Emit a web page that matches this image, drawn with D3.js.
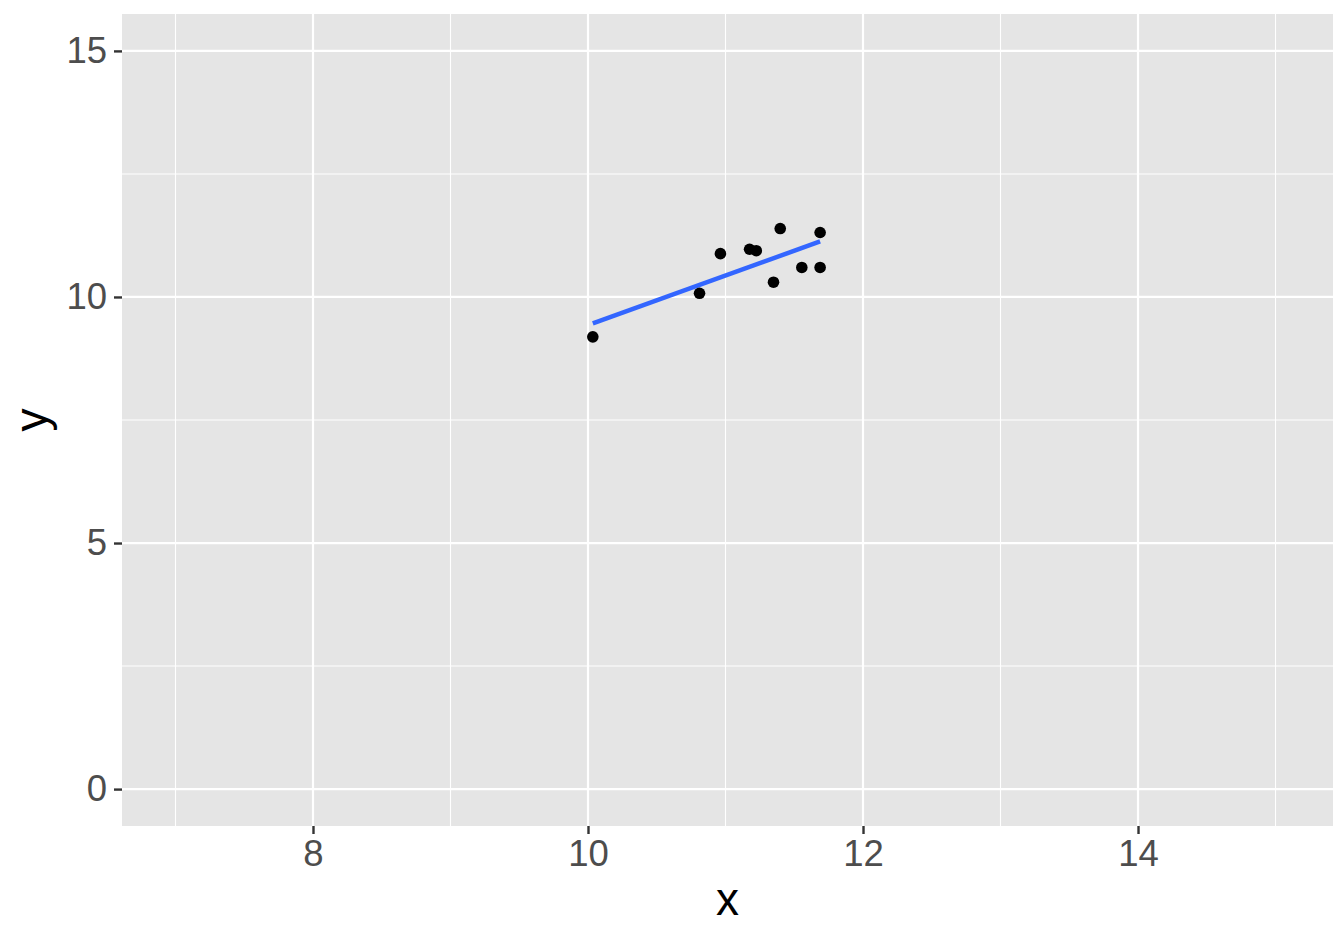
<!DOCTYPE html>
<html><head><meta charset="utf-8">
<script src="https://cdn.jsdelivr.net/npm/d3@7"></script>
<style>body{margin:0;background:#fff}svg{display:block}text{font-family:"Liberation Sans",Arial,Helvetica,sans-serif}</style>
</head><body>
<svg id="c" width="1344" height="940"></svg>
<script>
const xValues = [10.035, 10.811, 10.963, 11.175, 11.224, 11.349, 11.398, 11.555, 11.688, 11.688];
const yValues = [9.19, 10.075, 10.88, 10.97, 10.94, 10.30, 11.39, 10.60, 11.31, 10.60];
const xTicks = [8, 10, 12, 14];
const xMinor = [7, 9, 11, 13, 15];
const yTicks = [0, 5, 10, 15];
const yMinor = [2.5, 7.5, 12.5];

const svg = d3.select("#c");
const L = 122, R = 1333, T = 14, B = 826;
const x = d3.scaleLinear().domain([6.611, 15.418]).range([L, R]);
const y = d3.scaleLinear().domain([-0.75, 15.75]).range([B, T]);

svg.append("rect").attr("x", L).attr("y", T).attr("width", R - L).attr("height", B - T).attr("fill", "#E5E5E5");
const g = svg.append("g");
g.selectAll(".xm").data(xMinor).join("line").attr("x1", d => x(d)).attr("x2", d => x(d)).attr("y1", T).attr("y2", B).attr("stroke", "#fff").attr("stroke-width", 1.1);
g.selectAll(".ym").data(yMinor).join("line").attr("y1", d => y(d)).attr("y2", d => y(d)).attr("x1", L).attr("x2", R).attr("stroke", "#fff").attr("stroke-width", 1.1);
g.selectAll(".xM").data(xTicks).join("line").attr("x1", d => x(d)).attr("x2", d => x(d)).attr("y1", T).attr("y2", B).attr("stroke", "#fff").attr("stroke-width", 2.2);
g.selectAll(".yM").data(yTicks).join("line").attr("y1", d => y(d)).attr("y2", d => y(d)).attr("x1", L).attr("x2", R).attr("stroke", "#fff").attr("stroke-width", 2.2);

// axes
const xAxis = d3.axisBottom(x).tickValues(xTicks).tickSize(8).tickPadding(6).tickFormat(d3.format("d"));
const ax = svg.append("g").attr("transform", `translate(0,${B})`).call(xAxis);
const yAxis = d3.axisLeft(y).tickValues(yTicks).tickSize(8).tickPadding(7).tickFormat(d3.format("d"));
const ay = svg.append("g").attr("transform", `translate(${L},0)`).call(yAxis);
[ax, ay].forEach(a => {
  a.select(".domain").remove();
  a.selectAll(".tick line").attr("stroke", "#333333").attr("stroke-width", 2.4);
  a.selectAll(".tick text").attr("fill", "#4D4D4D").style("font-size", "36.5px").style("font-family", '"Liberation Sans",Arial,sans-serif');
});

// regression (least squares fit of the points)
const mx = d3.mean(xValues), my = d3.mean(yValues);
let sxy = 0, sxx = 0;
xValues.forEach((v, i) => { sxy += (v - mx) * (yValues[i] - my); sxx += (v - mx) ** 2; });
const slope = sxy / sxx, icpt = my - slope * mx;
const xr = d3.extent(xValues);
svg.append("line").attr("x1", x(xr[0])).attr("y1", y(icpt + slope * xr[0]))
  .attr("x2", x(xr[1])).attr("y2", y(icpt + slope * xr[1]))
  .attr("stroke", "#3366FF").attr("stroke-width", 4.5);

svg.selectAll(".pt").data(xValues).join("circle")
  .attr("cx", d => x(d)).attr("cy", (d, i) => y(yValues[i])).attr("r", 5.8).attr("fill", "#000");

svg.append("text").attr("x", (L + R) / 2).attr("y", 915).attr("text-anchor", "middle").attr("fill", "#000").style("font-size", "46px").text("x");
svg.append("text").attr("transform", `translate(47,${(T + B) / 2}) rotate(-90)`).attr("text-anchor", "middle").attr("fill", "#000").style("font-size", "46px").text("y");
</script>
</body></html>
